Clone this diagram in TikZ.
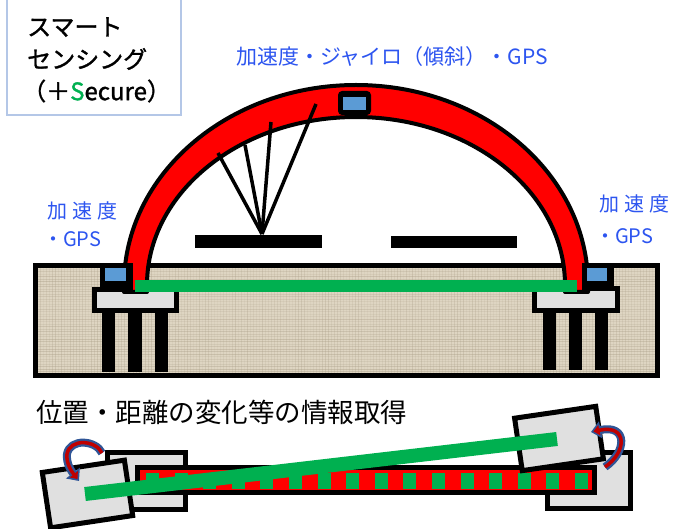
\documentclass[tikz,border=0pt]{standalone}
\usepackage{fontspec}
\setmainfont{Noto Sans CJK JP}
\newfontfamily\jpspaced{Noto Sans CJK JP}[LetterSpace=25]
\newfontfamily\jpheavy{Noto Sans CJK JP}[FakeBold=1.3]
\usetikzlibrary{arrows.meta}

\definecolor{archred}{RGB}{255,0,0}
\definecolor{railgreen}{RGB}{0,176,80}
\definecolor{sensorblue}{RGB}{91,155,213}
\definecolor{capgray}{RGB}{224,224,224}
\definecolor{soil}{RGB}{222,213,194}
\definecolor{soildark}{RGB}{170,158,135}
\definecolor{labelblue}{RGB}{45,85,240}
\definecolor{frameblue}{RGB}{180,199,231}
\definecolor{arrowblue}{RGB}{47,85,151}
\definecolor{arrowred}{RGB}{192,0,0}

\begin{document}
\begin{tikzpicture}[x=1pt,y=-1pt,
  boxtext/.style={font=\fontsize{24}{24}\selectfont\jpheavy, inner sep=0pt, anchor=west},
  bluelabel/.style={font=\fontsize{21}{21}\selectfont, text=labelblue, inner sep=0pt},
  sidelabel/.style={font=\fontsize{20}{20}\selectfont, text=labelblue, inner sep=0pt, anchor=west},
  titletext/.style={font=\fontsize{26.5}{26.5}\selectfont, inner sep=0pt, anchor=west},
  outline/.style={draw=black, line width=5pt},
  leg/.style={fill=black},
  sensor/.style={fill=sensorblue},
  rail/.style={fill=railgreen},
  block/.style={outline, fill=capgray},
  rotblue/.style={draw=arrowblue, line width=8pt, -{Triangle[width=17pt,length=10pt]}},
  rotred/.style={draw=arrowred, line width=3.5pt, shorten >=2.5pt, -{Triangle[width=10pt,length=6pt]}}
]
\useasboundingbox (0,0) rectangle (688,529);
\fill[white] (0,0) rectangle (688,529);

% ---- heading box ----
\draw[frameblue, line width=1.5pt, fill=white] (7,-5) rectangle (181,115);
\node[boxtext] (head1) at (27,27) {スマート};
\node[boxtext] (head2) at (27,59) {センシング};
\node[boxtext] (head3) at (22,91) {（＋{\color{railgreen}S}ecure）};

% ---- sensor labels ----
\node[bluelabel] (toplabel) at (392,57) {加速度・ジャイロ（傾斜）・GPS};
\node[sidelabel, font=\fontsize{20}{20}\selectfont\jpspaced] (leftacc) at (47,211) {加速度};
\node[sidelabel] (leftgps) at (43,239) {・GPS};
\node[sidelabel, font=\fontsize{20}{20}\selectfont\jpspaced] (rightacc) at (599,204) {加速度};
\node[sidelabel] (rightgps) at (595,236) {・GPS};

% ---- ground with burlap texture ----
\fill[soil] (33,263) rectangle (660,378);
\begin{scope}
  \clip (33,263) rectangle (660,378);
  \pgfmathsetseed{7}
  \foreach \yy in {264,266.5,...,378} {
    \pgfmathsetmacro\op{0.12+0.3*rnd}
    \draw[soildark, opacity=\op, line width=0.7pt] (33,\yy) -- (660,\yy);
  }
  \foreach \xx in {34,37,...,660} {
    \pgfmathsetmacro\op{0.08+0.25*rnd}
    \draw[soildark, opacity=\op, line width=0.6pt] (\xx,263) -- (\xx,378);
  }
\end{scope}
\draw[outline] (35.5,265.5) rectangle (657.5,375.5);

% ---- abutment piles ----
\fill[leg] (102,308) rectangle (115,372);
\fill[leg] (128,308) rectangle (142,372);
\fill[leg] (155,308) rectangle (168,372);
\fill[leg] (543,308) rectangle (556,370);
\fill[leg] (569,308) rectangle (582,370);
\fill[leg] (595,308) rectangle (608,370);

% ---- pile caps ----
\draw[block] (94.5,289.5) rectangle (176.5,310.5);
\draw[block] (534.5,288.5) rectangle (617.5,310.5);

% ---- arch ----
\draw[line width=4pt, fill=archred, line join=round]
  (124,292) -- (124,285)
  arc[start angle=180, end angle=360, x radius=232, y radius=200]
  -- (588,292) -- (565,292) -- (565,285)
  arc[start angle=360, end angle=180, x radius=209, y radius=168]
  -- (147,292) -- cycle;

% ---- end sensors ----
\fill[black] (100,263) rectangle (133,290);
\fill[sensor] (105,268) rectangle (126,281);
\fill[black] (582,263) rectangle (614,290);
\fill[sensor] (587,268) rectangle (607,281);

% ---- crown sensor ----
\fill[black, rounded corners=4pt] (338,91) rectangle (371,115);
\fill[sensor] (343,97) rectangle (366,110);

% ---- deck ----
\fill[rail] (135,280) rectangle (577,292);

% ---- hanger fan and girders ----
\coordinate (fanbase) at (262,234);
\coordinate (fan1) at (218,153);
\coordinate (fan2) at (245,145);
\coordinate (fan3) at (271,122);
\coordinate (fan4) at (316,104);
\foreach \f in {fan1,fan2,fan3,fan4}
  \draw[line width=3.5pt] (fanbase) -- (\f);
\fill[black] (195,235) rectangle (322,248);
\fill[black] (391,236) rectangle (517,248);

% ---- lower scheme ----
\node[titletext] (lowertitle) at (36,412) {位置・距離の変化等の情報取得};

% fixed end blocks
\draw[block] (107.5,452.5) rectangle (185.5,509.5);
\draw[block] (547.5,452.5) rectangle (630.5,508.5);

% red girder with green markers
\draw[outline, fill=archred] (137.5,467.5) rectangle (594.5,492.5);
\foreach \k in {0,...,15}
  \fill[rail] ({146+28.6*\k},472.5) rectangle ({159+28.6*\k},488.5);

% displaced end blocks
\begin{scope}[shift={(87.5,494)}, rotate=8.5]
  \draw[block] (-41.5,-28) rectangle (41.5,28);
\end{scope}
\begin{scope}[shift={(559,438.5)}, rotate=8.3]
  \draw[block] (-41,-26.5) rectangle (41,26.5);
\end{scope}

% measured line between the blocks
\coordinate (gaugeA) at (85,494);
\coordinate (gaugeB) at (557,439);
\draw[railgreen, line width=14pt] (gaugeA) -- (gaugeB);

% rotation marks
\coordinate (rotLtail) at (102,453);
\coordinate (rotLhead) at (79,481);
\coordinate (rotRtail) at (605,467);
\coordinate (rotRhead) at (591,432);
\draw[rotblue] (rotLtail) .. controls (96,440) and (70,438) .. (67,454) .. controls (66,464) and (72,472) .. (rotLhead);
\draw[rotred] (rotLtail) .. controls (96,440) and (70,438) .. (67,454) .. controls (66,464) and (72,472) .. (rotLhead);
\draw[rotblue] (rotRtail) .. controls (627,452) and (628,424) .. (rotRhead);
\draw[rotred] (rotRtail) .. controls (627,452) and (628,424) .. (rotRhead);
\end{tikzpicture}
\end{document}
